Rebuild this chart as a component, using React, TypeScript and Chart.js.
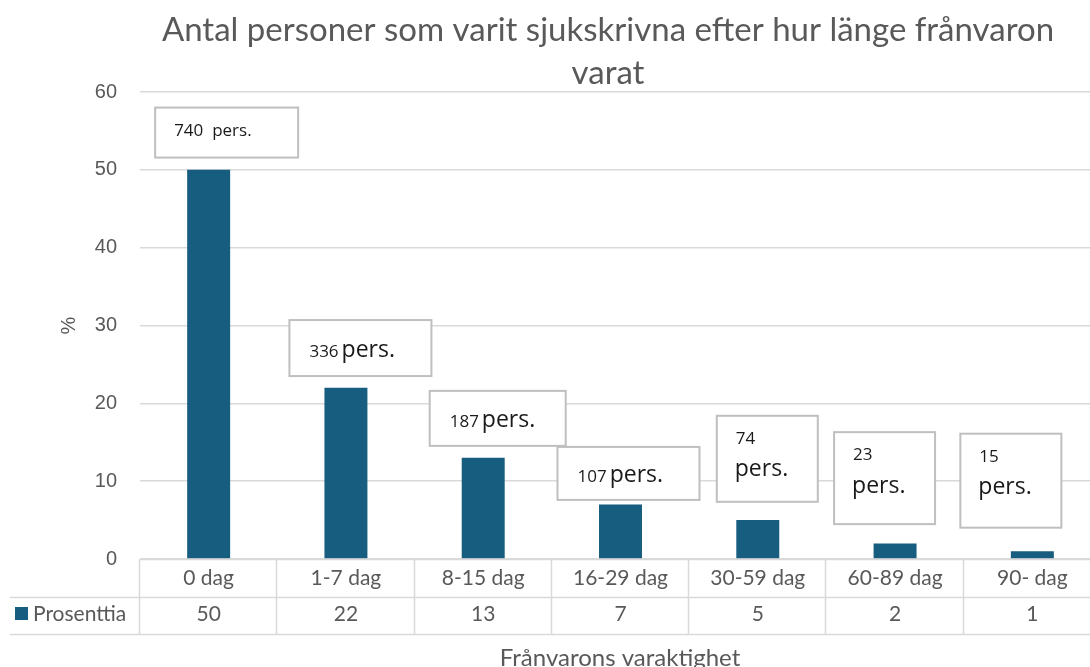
import React, { useEffect, useRef } from "react";
import { Chart, registerables } from "chart.js";

Chart.register(...registerables);

const categories = ["0 dag", "1-7 dag", "8-15 dag", "16-29 dag", "30-59 dag", "60-89 dag", "90- dag"];
const percentValues = [50, 22, 13, 7, 5, 2, 1];
const personCounts = [740, 336, 187, 107, 74, 23, 15];
const seriesName = "Prosenttia";
const titleLines = ["Antal personer som varit sjukskrivna efter hur länge frånvaron", "varat"];
const yAxisTitle = "%";
const xAxisTitle = "Frånvarons varaktighet";

// annotation box layout (value units for top, px for offsets/sizes)
const boxTopValue = [58.0, 30.7, 21.6, 14.4, 18.4, 16.3, 16.1];
const boxDx = [18, 14.5, 14.5, 8, 9.5, -10.5, -21.5];
const boxW = [143, 142, 136, 142, 101, 101, 101];
const boxH = [50, 56, 55, 53, 86, 92, 94];
const boxTwoLine = [false, false, false, false, true, true, true];

const GRAY = "#595959";
const GRID = "#d9d9d9";
const BAR = "#175d7f";
const TEXT_FONT = "Lato, 'Noto Sans', sans-serif";
const NOTE_FONT = "'Open Sans', sans-serif";
const AXIS_FONT = "'Liberation Sans', Arial, sans-serif";

const tablePlugin = {
  id: "tableAndNotes",
  afterDraw(chart: any) {
    const ctx = chart.ctx as CanvasRenderingContext2D;
    const xs = chart.scales.x;
    const ys = chart.scales.y;
    const area = chart.chartArea;
    const n = categories.length;
    const catW = (area.right - area.left) / n;
    const row1Top = area.bottom;
    const row2Top = row1Top + 38;
    const rowBottom = row2Top + 37;
    ctx.save();
    ctx.strokeStyle = GRID;
    ctx.lineWidth = 1.5;
    ctx.beginPath();
    ctx.moveTo(area.left, row1Top + 0.5);
    ctx.lineTo(area.right, row1Top + 0.5);
    ctx.moveTo(10, row2Top + 0.5);
    ctx.lineTo(area.right, row2Top + 0.5);
    ctx.moveTo(10, rowBottom + 0.5);
    ctx.lineTo(area.right, rowBottom + 0.5);
    for (let i = 0; i <= n; i++) {
      const x = Math.round(area.left + i * catW) - 0.5;
      ctx.moveTo(x, row1Top);
      ctx.lineTo(x, rowBottom);
    }
    ctx.stroke();

    ctx.fillStyle = GRAY;
    ctx.font = `21px ${TEXT_FONT}`;
    ctx.textAlign = "center";
    ctx.textBaseline = "middle";
    for (let i = 0; i < n; i++) {
      const cx = xs.getPixelForValue(i);
      ctx.fillText(categories[i], cx, row1Top + 19);
      ctx.fillText(String(percentValues[i]), cx, row2Top + 17);
    }
    // legend key
    ctx.fillStyle = BAR;
    ctx.fillRect(15, row2Top + 10, 13, 13);
    ctx.fillStyle = GRAY;
    ctx.textAlign = "left";
    ctx.fillText(seriesName, 33, row2Top + 17);

    // axis titles
    ctx.font = `24px ${TEXT_FONT}`;
    ctx.textAlign = "center";
    ctx.fillText(xAxisTitle, 620, rowBottom + 24);
    ctx.save();
    ctx.translate(69, (area.top + area.bottom) / 2);
    ctx.rotate(-Math.PI / 2);
    ctx.font = `20px ${AXIS_FONT}`;
    ctx.fillText(yAxisTitle, 0, 0);
    ctx.restore();

    // chart title
    ctx.font = `33px ${TEXT_FONT}`;
    ctx.fillStyle = GRAY;
    ctx.textAlign = "center";
    ctx.fillText(titleLines[0], 608, 30);
    ctx.fillText(titleLines[1], 608, 73);

    // annotation boxes
    for (let i = 0; i < n; i++) {
      const cx = xs.getPixelForValue(i) + boxDx[i];
      const top = ys.getPixelForValue(boxTopValue[i]);
      const left = cx - boxW[i] / 2;
      ctx.fillStyle = "#ffffff";
      ctx.fillRect(left, top, boxW[i], boxH[i]);
      ctx.strokeStyle = "#bfbfbf";
      ctx.lineWidth = 2;
      ctx.strokeRect(left, top, boxW[i], boxH[i]);
      ctx.fillStyle = "#1a1a1a";
      ctx.textAlign = "left";
      ctx.textBaseline = "middle";
      const num = String(personCounts[i]);
      if (i === 0) {
        ctx.font = `17px ${NOTE_FONT}`;
        ctx.fillText(num + "  pers.", left + 19, top + 24);
      } else if (!boxTwoLine[i]) {
        ctx.font = `17px ${NOTE_FONT}`;
        const tx = left + 20;
        const ty = top + boxH[i] / 2 + 4;
        ctx.fillText(num, tx, ty);
        const w = ctx.measureText(num).width;
        ctx.font = `23px ${NOTE_FONT}`;
        ctx.fillText("pers.", tx + w + 3, ty - 2);
      } else {
        ctx.font = `17px ${NOTE_FONT}`;
        ctx.fillText(num, left + 19, top + 23);
        ctx.font = `23px ${NOTE_FONT}`;
        ctx.fillText("pers.", left + 18, top + 54);
      }
    }
    ctx.restore();
  },
};

export default function App() {
  const ref = useRef<HTMLCanvasElement | null>(null);
  useEffect(() => {
    if (!ref.current) return;
    const chart = new Chart(ref.current, {
      type: "bar",
      data: {
        labels: categories,
        datasets: [
          {
            label: seriesName,
            data: percentValues,
            backgroundColor: BAR,
            barPercentage: 0.313,
            categoryPercentage: 1,
          },
        ],
      },
      options: {
        responsive: false,
        animation: false,
        layout: { padding: { top: 92, bottom: 108, left: 0, right: 9 } },
        plugins: { legend: { display: false }, tooltip: { enabled: false }, title: { display: false } },
        scales: {
          x: { display: false },
          y: {
            min: 0,
            max: 60,
            ticks: {
              stepSize: 10,
              color: GRAY,
              padding: 23,
              font: { size: 20, family: AXIS_FONT },
            },
            border: { display: false },
            grid: { color: GRID, lineWidth: 1.5, drawTicks: false },
            afterFit(scale: any) {
              scale.width = 140;
            },
          },
        },
      },
      plugins: [tablePlugin],
    });
    return () => chart.destroy();
  }, []);
  return (
    <div style={{ position: "fixed", left: 0, top: 0, width: 1110, height: 667, background: "#fff" }}>
      <canvas ref={ref} width={1110} height={667} style={{ width: 1110, height: 667 }} />
    </div>
  );
}
